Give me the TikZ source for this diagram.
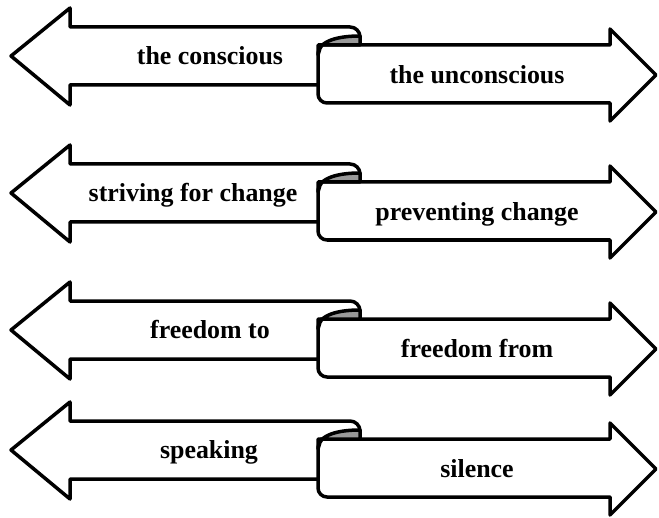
\documentclass[tikz,border=0pt]{standalone}
\usepackage{fontspec}
\setmainfont{Liberation Serif}
\begin{document}
\begin{tikzpicture}[x=1bp,y=-1bp]
\tikzstyle{ribbon}=[draw,fill=white,line width=3.5bp,line join=round]
\tikzstyle{roll}=[ribbon,fill=black!40]
\tikzstyle{every node}=[anchor=base,inner sep=0pt,font=\bfseries\fontsize{26}{30}\selectfont]
\useasboundingbox (0,0) rectangle (659,518);
\foreach \dy/\lx/\ltext/\rtext [count=\i] in {0/210/the conscious/the unconscious,
  137/193/striving for change/preventing change,
  274/210/freedom to/freedom from,
  394/209/speaking/silence}{
\begin{scope}[shift={(0,\dy)}]
% left arrow, rolled under at its right end
\draw[ribbon] (11,56) -- (70,8) -- (70,27) -- (350,27) to[out=0,in=90] (360,37) -- (360,85) -- (70,85) -- (70,105) -- cycle;
% right arrow
\draw[ribbon] (318,45) -- (610,45) -- (610,29) -- (656,75) -- (610,121) -- (610,103) -- (327,103) to[out=180,in=-90] (318,94) -- cycle;
% top of the roll
\draw[roll] (318,55) .. controls (318,40) and (340,36) .. (360,36) -- (360,45) -- (321,45) -- cycle;
\node (left \i) at (\lx,64.5) {\ltext};
\node (right \i) at (477,83.5) {\rtext};
\end{scope}}
\end{tikzpicture}
\end{document}
